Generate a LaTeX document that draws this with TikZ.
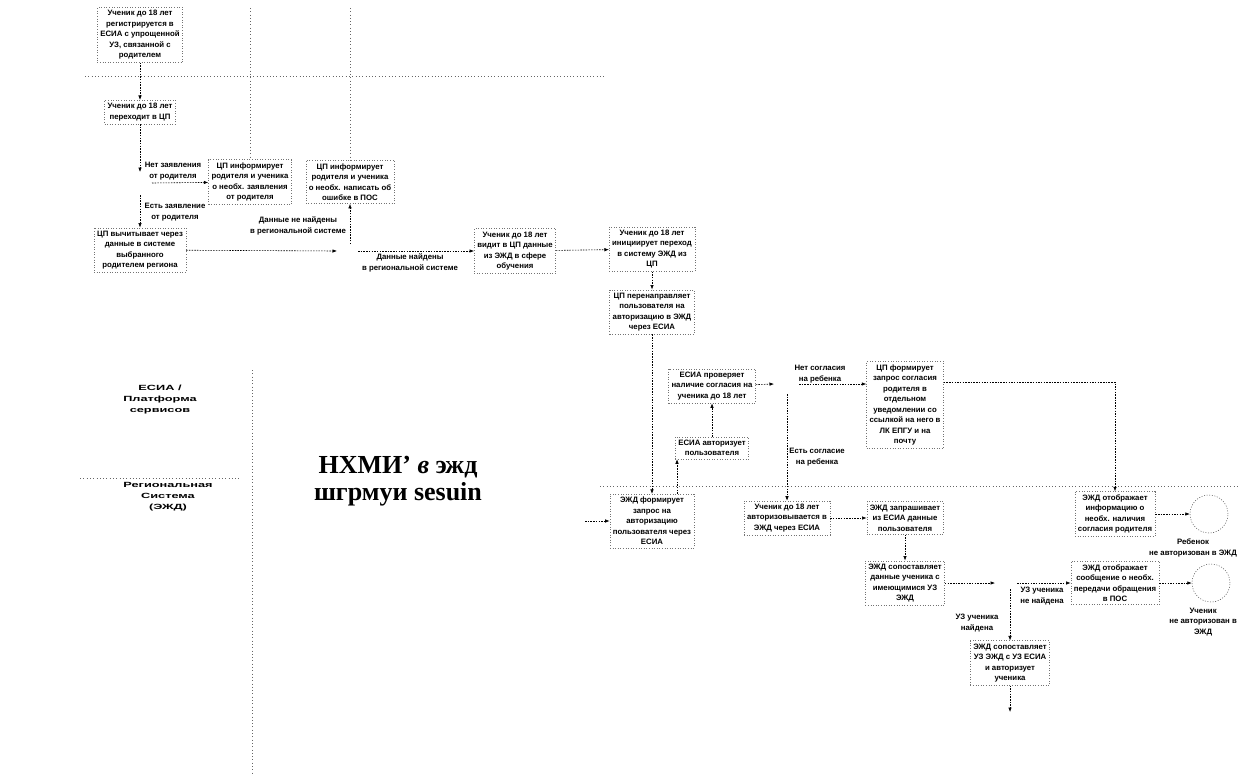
\documentclass[tikz,border=0pt]{standalone}
\usepackage{fontspec}
\setmainfont{Liberation Sans}
\newfontfamily\titlefont{Liberation Serif}
\newfontfamily\lanefont[FakeStretch=1.7]{Liberation Sans}
\usetikzlibrary{arrows.meta}
\begin{document}
\begin{tikzpicture}[x=1pt,y=-1pt,
  box/.style={draw=black!55, dash pattern=on 0.8pt off 1.8pt, line width=0.5pt, align=center,
    font=\fontsize{7.8}{10.5}\selectfont\bfseries, inner sep=3pt, text=black},
  lbl/.style={align=center, font=\fontsize{7.8}{10.5}\selectfont\bfseries, inner sep=1pt},
  flow/.style={draw=black, line width=0.6pt, dash pattern=on 1.5pt off 1.2pt, -{Latex[length=4.5pt,width=3.5pt]}},
  link/.style={draw=black, line width=0.6pt, dash pattern=on 1.5pt off 1.2pt},
  faint/.style={draw=black!60, line width=0.5pt, dash pattern=on 0.8pt off 2.5pt},
  endev/.style={circle, draw=black!70, dash pattern=on 1pt off 1.6pt, line width=0.5pt, minimum size=38pt, inner sep=0pt},
  lane/.style={align=center, font=\lanefont\fontsize{7.5}{11}\selectfont\bfseries, inner sep=0pt},
  ttl/.style={font=\titlefont\fontsize{26}{26}\selectfont\bfseries, inner sep=0pt, anchor=base}
]
\useasboundingbox (0,0) rectangle (1239,776);

% ---------- faint structure lines ----------
\coordinate (h1) at (85,76);   \coordinate (h2) at (605,76);
\coordinate (t3) at (250,8);   \coordinate (t4) at (350,8);
\coordinate (v1) at (252,370); \coordinate (v2) at (252,776);
\coordinate (la1) at (80,478); \coordinate (la2) at (240,478);
\coordinate (lb1) at (600,486); \coordinate (lb2) at (1239,486);
\draw[faint] (h1) -- (h2);
\draw[faint] (v1) -- (v2);
\draw[faint] (la1) -- (la2);
\draw[faint] (lb1) -- (lb2);

% ---------- lane labels and title ----------
\node[lane] (lane1) at (160,400) {ЕСИА /\\Платформа\\сервисов};
\node[lane] (lane2) at (168,497) {Региональная\\Система\\(ЭЖД)};
\node[ttl] (ttl1) at (398,473) {НХМИ’ \textit{в} эжд};
\node[ttl] (ttl2) at (398,500) {шгрмуи sesuin};

% ---------- upper part ----------
\node[box] (b1) at (140,35) {Ученик до 18 лет\\регистрируется в\\ЕСИА с упрощенной\\УЗ, связанной с\\родителем};
\node[box] (b2) at (140,112) {Ученик до 18 лет\\переходит в ЦП};
\coordinate (g1) at (140,183);
\node[box] (b3) at (250,182) {ЦП информирует\\родителя и ученика\\о необх. заявления\\от родителя};
\node[box] (b4) at (350,182) {ЦП информирует\\родителя и ученика\\о необх. написать об\\ошибке в ПОС};
\node[box] (b5) at (140,250) {ЦП вычитывает через\\данные в системе\\выбранного\\родителем региона};
\coordinate (g2) at (350,251);
\node[box] (b6) at (515,251) {Ученик до 18 лет\\видит в ЦП данные\\из ЭЖД в сфере\\обучения};
\node[box] (b7) at (652,249) {Ученик до 18 лет\\инициирует переход\\в систему ЭЖД из\\ЦП};
\node[box] (b8) at (652,312) {ЦП перенаправляет\\пользователя на\\авторизацию в ЭЖД\\через ЕСИА};

\node[lbl] (l1) at (173,171) {Нет заявления\\от родителя};
\node[lbl] (l2) at (175,212) {Есть заявление\\от родителя};
\node[lbl] (l3) at (298,226) {Данные не найдены\\в региональной системе};
\node[lbl] (l4) at (410,263) {Данные найдены\\в региональной системе};

\draw[faint] (t3) -- (b3);
\draw[faint] (t4) -- (b4);
\draw[flow] (b1) -- (b2);
\draw[flow] (b2) -- ([yshift=11pt]g1);
\draw[flow] ([xshift=12pt]g1) -- (b3);
\draw[flow] ([yshift=-12pt]g1) -- (b5);
\draw[flow] (b5) -- ([xshift=-13pt]g2);
\draw[flow] ([yshift=7pt]g2) -- (b4);
\draw[flow] ([xshift=8pt]g2) -- (b6);
\draw[flow] (b6) -- (b7);
\draw[flow] (b7) -- (b8);

% ---------- lower part ----------
\node[box] (bA) at (712,386) {ЕСИА проверяет\\наличие согласия на\\ученика до 18 лет};
\node[box] (bB) at (712,448) {ЕСИА авторизует\\пользователя};
\coordinate (gA) at (787,384);
\node[box] (bC) at (905,405) {ЦП формирует\\запрос согласия\\родителя в\\отдельном\\уведомлении со\\ссылкой на него в\\ЛК ЕПГУ и на\\почту};
\node[box] (bD) at (652,521) {ЭЖД формирует\\запрос на\\авторизацию\\пользователя через\\ЕСИА};
\node[box] (bE) at (787,518) {Ученик до 18 лет\\авторизовывается в\\ЭЖД через ЕСИА};
\node[box] (bF) at (905,518) {ЭЖД запрашивает\\из ЕСИА данные\\пользователя};
\node[box] (bG) at (905,583) {ЭЖД сопоставляет\\данные ученика с\\имеющимися УЗ\\ЭЖД};
\coordinate (gG) at (1010,583);
\node[box] (bH) at (1115,514) {ЭЖД отображает\\информацию о\\необх. наличия\\согласия родителя};
\node[box] (bI) at (1115,583) {ЭЖД отображает\\сообщение о необх.\\передачи обращения\\в ПОС};
\node[box] (bJ) at (1010,663) {ЭЖД сопоставляет\\УЗ ЭЖД с УЗ ЕСИА\\и авторизует\\ученика};
\coordinate (jE) at (1010,712);
\coordinate (sD) at (585,521);
\coordinate (cH) at (1115,382);
\node[endev] (e1) at (1209,514) {};
\node[endev] (e2) at (1211,583) {};

\node[lbl] (lA1) at (820,374) {Нет согласия\\на ребенка};
\node[lbl] (lA2) at (817,457) {Есть согласие\\на ребенка};
\node[lbl] (lG1) at (1042,596) {УЗ ученика\\не найдена};
\node[lbl] (lG2) at (977,623) {УЗ ученика\\найдена};
\node[lbl, anchor=east] (le1) at (1238,548) {Ребенок\\не авторизован в ЭЖД};
\node[lbl, anchor=east] (le2) at (1238,622) {Ученик\\не авторизован в\\ЭЖД};

\draw[flow] (b8) -- (bD);
\draw[flow] (sD) -- (bD);
\draw[flow] ([xshift=25pt]bD.north) -- ([xshift=25pt]bD.north |- bB.south);
\draw[flow] (bB) -- (bA);
\draw[flow] (bA) -- ([xshift=-13pt]gA);
\draw[flow] ([xshift=12pt]gA) -- (gA -| bC.west);
\draw[flow] ([yshift=-10pt]gA) -- (gA |- bE.north);
\draw[flow] (bC.east |- cH) -- (cH) -- (bH);
\draw[flow] (bE) -- (bF);
\draw[flow] (bF) -- (bG);
\draw[flow] (bG) -- ([xshift=-15pt]gG);
\draw[flow] ([xshift=7pt]gG) -- (bI);
\draw[flow] ([yshift=-6pt]gG) -- (bJ);
\draw[flow] (bJ) -- (jE);
\draw[flow] (bH) -- (e1);
\draw[flow] (bI) -- (e2);
\end{tikzpicture}
\end{document}
